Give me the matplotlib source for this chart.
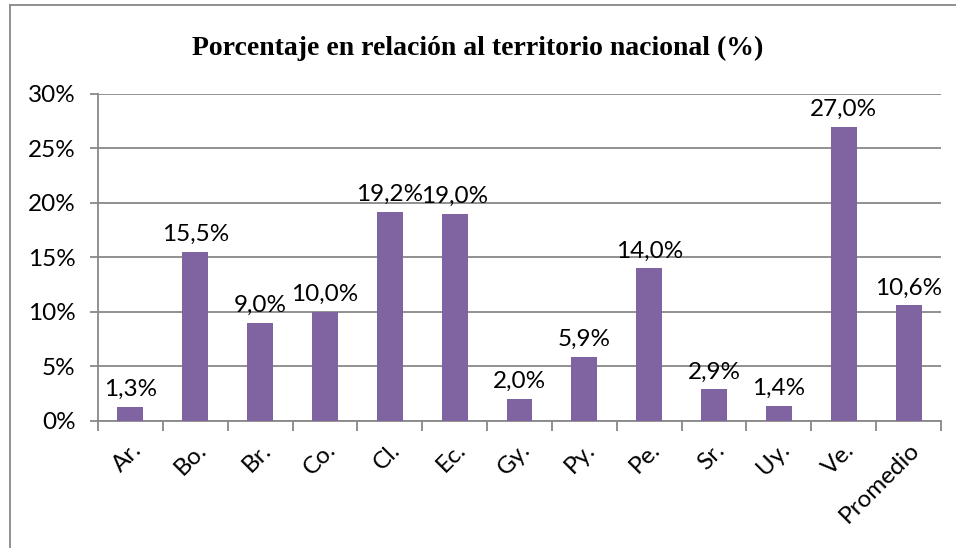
import matplotlib.pyplot as plt
from matplotlib.lines import Line2D
from matplotlib.ticker import FixedLocator

paises = ['Ar.', 'Bo.', 'Br.', 'Co.', 'Cl.', 'Ec.', 'Gy.', 'Py.', 'Pe.', 'Sr.', 'Uy.', 'Ve.', 'Promedio']
porcentaje = [1.3, 15.5, 9.0, 10.0, 19.2, 19.0, 2.0, 5.9, 14.0, 2.9, 1.4, 27.0, 10.6]
etiquetas = ['1,3%', '15,5%', '9,0%', '10,0%', '19,2%', '19,0%', '2,0%', '5,9%', '14,0%', '2,9%', '1,4%', '27,0%', '10,6%']
y_ticks = [0, 5, 10, 15, 20, 25, 30]

plt.rcParams['font.family'] = ['Lato', 'DejaVu Sans']

fig = plt.figure(figsize=(9.56, 5.48), dpi=100)
ax = fig.add_axes([0.1025, 0.2318, 0.8818, 0.5967])

gris = '#888888'
morado = '#8064A2'

x = range(len(paises))
ax.bar(x, porcentaje, width=0.4, color=morado, zorder=3)
for i, v in enumerate(porcentaje):
    ax.annotate(etiquetas[i], (i, v), xytext=(0, 5), textcoords='offset points',
                ha='center', va='bottom', fontsize=17.5, color='black')

ax.set_xlim(-0.5, len(paises) - 0.5)
ax.set_ylim(0, 30)
ax.set_yticks(y_ticks)
ax.set_yticklabels([f'{t}%' for t in y_ticks], fontsize=17.5)
ax.yaxis.grid(True, color=gris, linewidth=1.3, zorder=0)

ax.set_xticks(list(x))
ax.set_xticklabels(paises, fontsize=17.5, rotation=45, ha='right', va='top', rotation_mode='anchor')
ax.xaxis.set_minor_locator(FixedLocator([i - 0.5 for i in range(len(paises) + 1)]))
ax.tick_params(axis='x', which='major', length=0, pad=13)
ax.tick_params(axis='x', which='minor', length=7, color=gris, width=1.3)
ax.tick_params(axis='y', length=6, color=gris, width=1.3, pad=10)

for s in ['top', 'right']:
    ax.spines[s].set_visible(False)
for s in ['left', 'bottom']:
    ax.spines[s].set_color(gris)
    ax.spines[s].set_linewidth(1.3)

fig.text(0.5, 0.912, 'Porcentaje en relación al territorio nacional (%)',
         ha='center', va='center', fontsize=20, fontweight='bold',
         family='Liberation Serif')

# marco del gráfico
fig.add_artist(Line2D([0.0105, 0.0105], [0, 0.991], transform=fig.transFigure, color=gris, linewidth=1.3))
fig.add_artist(Line2D([0.0105, 1.0], [0.991, 0.991], transform=fig.transFigure, color=gris, linewidth=1.3))

fig.savefig('out.png', dpi=100)
